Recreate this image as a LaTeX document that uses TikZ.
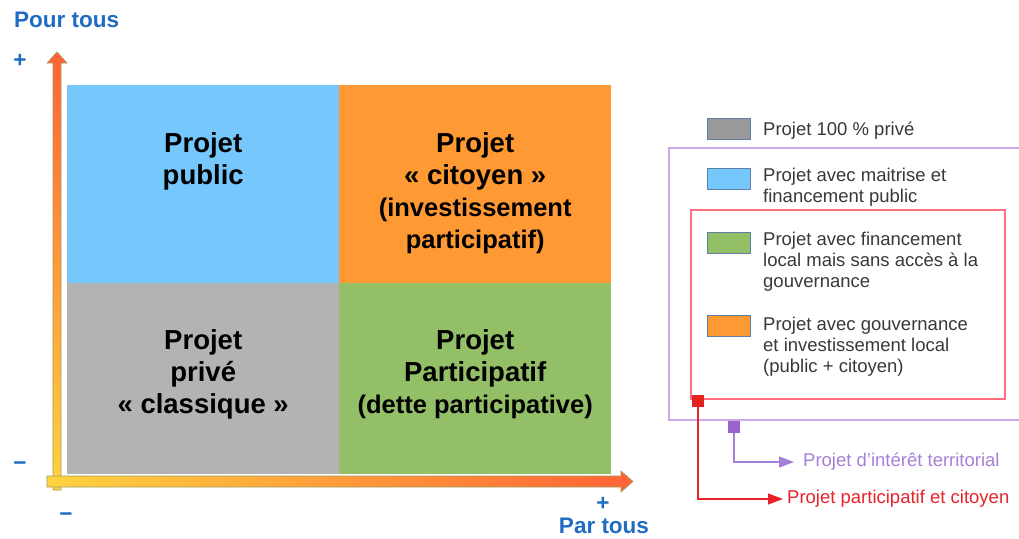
\documentclass[tikz,border=0pt]{standalone}
\usepackage{fontspec}
\setmainfont{Liberation Sans}
\usetikzlibrary{positioning, arrows.meta, calc}

\definecolor{qblue}{HTML}{76C7FB}
\definecolor{qorange}{HTML}{FF9933}
\definecolor{qgray}{HTML}{B3B3B3}
\definecolor{qgreen}{HTML}{93BF66}
\definecolor{lgray}{HTML}{999999}
\definecolor{swborder}{HTML}{5E80A8}
\definecolor{axyellow}{HTML}{FFD43F}
\definecolor{axred}{HTML}{FF6236}
\definecolor{axedge}{HTML}{9E9E5C}
\definecolor{axblue}{HTML}{1F6CC2}
\definecolor{legtext}{HTML}{383838}
\definecolor{boxpurple}{HTML}{CBA9E9}
\definecolor{boxred}{HTML}{FF6F7F}
\definecolor{tagred}{HTML}{E3221F}
\definecolor{tagpurple}{HTML}{9B62CC}
\definecolor{txtpurple}{HTML}{A67FD9}
\definecolor{txtred}{HTML}{E6222B}

\newcommand{\subline}{\fontsize{25.5}{32}\selectfont}

\tikzset{
  quad/.style={minimum width=272pt, inner sep=0, anchor=north west},
  qtext/.style={align=center, font=\fontsize{27.5}{32}\selectfont\bfseries, inner sep=0},
  swatch/.style={draw=swborder, line width=1pt, minimum width=43pt, minimum height=21pt, inner sep=0},
  legtext/.style={align=left, font=\fontsize{18.5}{21}\selectfont, text=legtext, inner sep=0, anchor=west},
  axlabel/.style={font=\fontsize{22.5}{26}\selectfont\bfseries, text=axblue, inner sep=0},
  tagbox/.style={minimum size=12pt, inner sep=0},
  taglabel/.style={font=\fontsize{18.5}{21}\selectfont, inner sep=0, anchor=west}
}

\begin{document}
\begin{tikzpicture}[x=1pt, y=-1pt, >={Triangle[length=15pt, width=11pt]}]
  \useasboundingbox (0,0) rectangle (1019,538);

  % quadrants
  \node[quad, fill=qblue, minimum height=198pt] (pub) at (67,85) {};
  \node[quad, fill=qorange, minimum height=198pt] (cit) at (339,85) {};
  \node[quad, fill=qgray, minimum height=191pt] (priv) at (67,283) {};
  \node[quad, fill=qgreen, minimum height=191pt] (part) at (339,283) {};

  \node[qtext, below=47pt of pub.north] (pubtxt) {Projet\\public};
  \node[qtext, below=47pt of cit.north] (cittxt) {Projet\\« citoyen »\\{\subline (investissement}\\{\subline participatif)}};
  \node[qtext, below=46pt of priv.north] (privtxt) {Projet\\privé\\« classique »};
  \node[qtext, below=46pt of part.north] (parttxt) {Projet\\Participatif\\{\subline (dette participative)}};

  % axes
  \shade[bottom color=axyellow, top color=axred, draw=axedge, line width=0.6pt]
    (53,490) -- (53,63) -- (47,63) -- (57,52) -- (67,63) -- (61,63) -- (61,490) -- cycle;
  \shade[left color=axyellow, right color=axred, draw=axedge, line width=0.6pt]
    (47,476) -- (621,476) -- (621,471) -- (633,481.5) -- (621,492) -- (621,487) -- (47,487) -- cycle;

  \node[axlabel, anchor=west] (ytitle) at (14,20) {Pour tous};
  \node[axlabel] (yplus) at (20,61) {+};
  \node[axlabel] (yminus) at (20,466) {−};
  \node[axlabel] (xminus) at (66,517) {−};
  \node[axlabel] (xplus) at (603,504) {+};
  \node[axlabel] (xtitle) at (604,526) {Par tous};

  % legend
  \node[swatch, fill=lgray] (sw1) at (728.5,129) {};
  \node[swatch, fill=qblue] (sw2) at (728.5,179) {};
  \node[swatch, fill=qgreen] (sw3) at (728.5,242.5) {};
  \node[swatch, fill=qorange] (sw4) at (728.5,326) {};
  \node[legtext] (lt1) at (763,131) {Projet 100 \% privé};
  \node[legtext] (lt2) at (763,187) {Projet avec maitrise et\\financement public};
  \node[legtext] (lt3) at (763,262) {Projet avec financement\\local mais sans accès à la\\gouvernance};
  \node[legtext] (lt4) at (763,347) {Projet avec gouvernance\\et investissement local\\(public + citoyen)};

  \draw[boxpurple, line width=1.6pt] (1022,148) -- (669,148) -- (669,420) -- (1022,420);
  \draw[boxred, line width=1.2pt] (691,210) rectangle (1005,399);

  \node[tagbox, fill=tagred] (rtag) at (698,401) {};
  \node[tagbox, fill=tagpurple] (ptag) at (734,426.5) {};
  \node[taglabel, text=txtpurple, inner xsep=9pt] (ptext) at (794,462) {Projet d’intérêt territorial};
  \node[taglabel, text=txtred, inner xsep=4pt] (rtext) at (783,499) {Projet participatif et citoyen};

  \draw[->, txtpurple, line width=1.2pt] (ptag.south) |- (ptext.west);
  \draw[->, txtred, line width=1.2pt] (rtag.south) |- (rtext.west);
\end{tikzpicture}
\end{document}
